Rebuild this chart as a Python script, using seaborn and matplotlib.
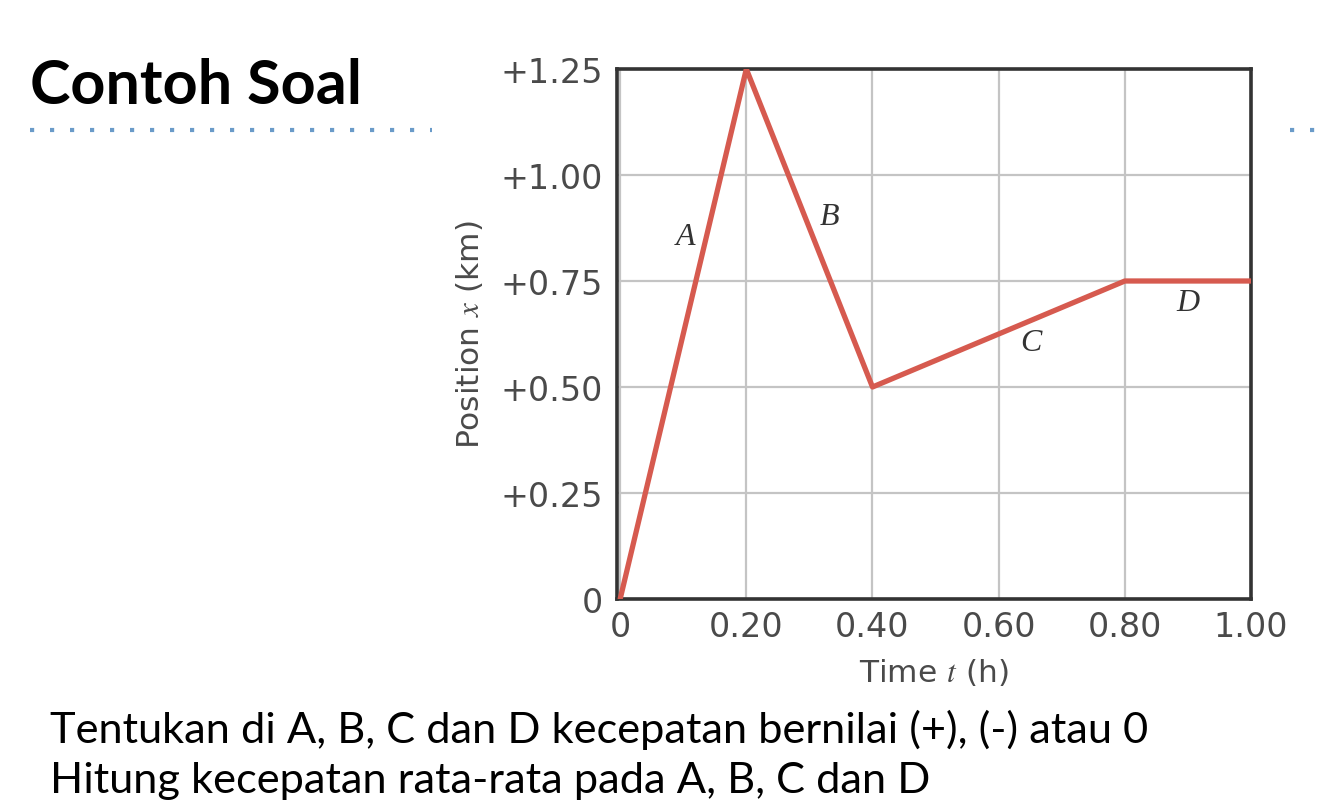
import matplotlib
matplotlib.use("Agg")
import matplotlib.pyplot as plt
import seaborn as sns
import pandas as pd
from matplotlib.lines import Line2D

# Data
time_h = [0.0, 0.20, 0.40, 0.80, 1.00]
position_km = [0.0, 1.25, 0.50, 0.75, 0.75]
segment_labels = ["A", "B", "C", "D"]
segment_label_x = [0.104, 0.331, 0.651, 0.900]
segment_label_y = [0.856, 0.903, 0.606, 0.700]
x_ticks = [0.0, 0.2, 0.4, 0.6, 0.8, 1.0]
x_ticklabels = ["0", "0.20", "0.40", "0.60", "0.80", "1.00"]
y_ticks = [0.0, 0.25, 0.5, 0.75, 1.0, 1.25]
y_ticklabels = ["0", "+0.25", "+0.50", "+0.75", "+1.00", "+1.25"]

sns.set_theme(style="white")
plt.rcParams["mathtext.fontset"] = "stix"

W, H = 1317, 804
fig = plt.figure(figsize=(W / 100, H / 100), dpi=100)
ax = fig.add_axes([617 / W, 1 - 600 / H, (1251 - 617) / W, (600 - 70) / H])

df = pd.DataFrame({"t": time_h, "x": position_km})
sns.lineplot(data=df, x="t", y="x", sort=False, ax=ax, color="#D65A4F",
             linewidth=3.8, zorder=3)

ax.set_xlim(-0.005, 1.0)
ax.set_ylim(0, 1.25)
ax.set_xticks(x_ticks)
ax.set_xticklabels(x_ticklabels)
ax.set_yticks(y_ticks)
ax.set_yticklabels(y_ticklabels)
ax.grid(True, color="#C4C4C4", linewidth=1.6)
for s in ax.spines.values():
    s.set_color("#333333")
    s.set_linewidth(2.6)
ax.tick_params(axis="both", length=0, labelsize=24, colors="#4a4a4a")
ax.tick_params(axis="x", pad=8)
ax.tick_params(axis="y", pad=10)
for lab in ax.get_xticklabels() + ax.get_yticklabels():
    lab.set_family("DejaVu Sans")

ax.set_xlabel(r"Time $t$ (h)", fontsize=22.5, color="#4a4a4a", family="DejaVu Sans", labelpad=9)
ax.set_ylabel(r"Position $x$ (km)", fontsize=22.5, color="#4a4a4a", family="DejaVu Sans", labelpad=11)

for lab, lx, ly in zip(segment_labels, segment_label_x, segment_label_y):
    ax.text(lx, ly, lab, fontsize=23, family="Liberation Serif", style="italic",
            color="#333333", ha="center", va="center")

# Title and decorations
fig.text(30 / W, 1 - 86 / H, "Contoh Soal", fontsize=44, fontweight="bold",
         family="Lato", color="black", ha="left", va="center")
fig.add_artist(Line2D([30 / W, 432 / W], [1 - 131 / H, 1 - 131 / H], transform=fig.transFigure,
                      color="#6A9BC9", linewidth=3, linestyle=(0, (1, 3.8))))
fig.add_artist(Line2D([1290 / W, 1317 / W], [1 - 131 / H, 1 - 131 / H], transform=fig.transFigure,
                      color="#6A9BC9", linewidth=3, linestyle=(0, (1, 3.8))))

fig.text(50 / W, 1 - 730 / H, "Tentukan di A, B, C dan D kecepatan bernilai (+), (-) atau 0",
         fontsize=31.2, family="Lato", color="black", ha="left", va="center")
fig.text(50 / W, 1 - 781 / H, "Hitung kecepatan rata-rata pada A, B, C dan D",
         fontsize=31.2, family="Lato", color="black", ha="left", va="center")

fig.savefig("out.png", dpi=100)
